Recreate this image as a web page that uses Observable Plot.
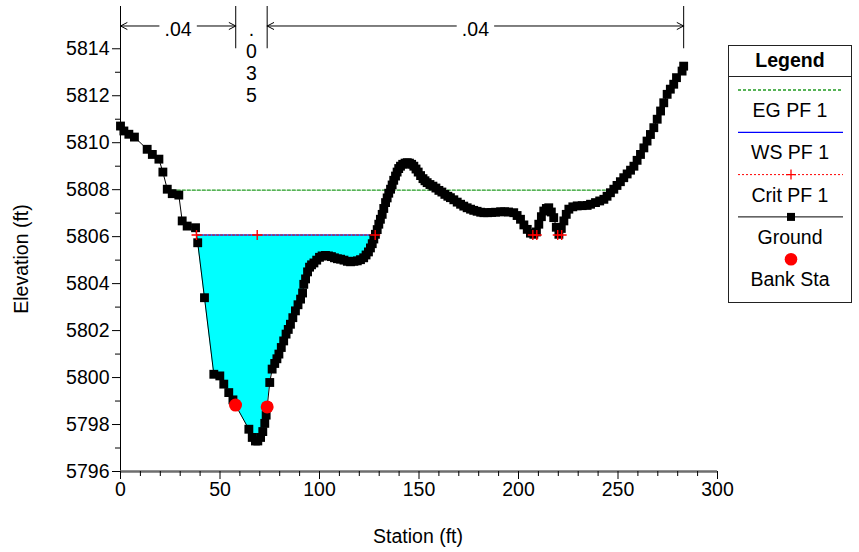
<!DOCTYPE html>
<html><head><meta charset="utf-8">
<script src="https://cdn.jsdelivr.net/npm/d3@7"></script>
<script src="https://cdn.jsdelivr.net/npm/@observablehq/plot@0.6"></script>
<style>
body{margin:0;background:#fff;font-family:Arial,"Liberation Sans",sans-serif;}
#wrap{position:relative;width:859px;height:552px;overflow:hidden;}
#wrap svg{position:absolute;left:0;top:0;}
.lab{position:absolute;font-size:19.5px;color:#000;white-space:nowrap;line-height:1;}
</style></head><body><div id="wrap"></div>
<script>
// ---- data ----
const groundStation = [0,1.7,4.2,7,13.4,16,19.3,21.3,23.5,26,29.3,31,33.5,37.7,38.8,42.2,46.9,49.9,51.9,54.4,56.5,57.8,
64.5,66.2,67.8,69,70.4,71.5,72.5,73.2,73.7,75,76.2,77.5,78.6,79.6,80.8,82,83.2,84.3,85.4,86.6,87.9,89.2,90.5,91.5,92.1,93,94,95,96,97.2,98.6,100,101.3,103,104.5,106,107.5,109,110.6,112.3,114,115.6,117.3,119,120.6,122.2,123.4,124.6,125.6,126.5,127.3,128.1,129,129.8,130.6,131.5,132.3,133.2,134,134.8,135.7,136.5,137.3,138.2,139,139.8,140.7,141.8,143,144.1,145.2,146.3,147.4,148.5,149.6,150.8,152,153,154.1,155.5,157,158.5,160,161.5,163,164.5,165.8,167.5,169.2,170.9,172.5,174.2,175.9,177.5,179.2,181,182.6,184.5,186.5,188.5,191,193,195,197.6,199.3,201,202.7,204.4,206,207.7,209,210.2,211.5,212.7,214,215.2,216.5,217.7,219,220.3,221.5,222.8,224,225.3,227.3,229.5,232,234.5,236.2,238.7,240.8,242.9,244.5,246.2,247.9,249.5,251.2,252.9,254.6,256.3,258,259.6,261.3,263,264.6,266.3,268,269.7,271.4,273,274.7,276.3,278,279.4,282.2,283];
const groundElevation = [5810.71,5810.5,5810.36,5810.24,5809.72,5809.5,5809.3,5808.75,5808.02,5807.83,5807.77,5806.67,5806.45,5806.38,5805.74,5803.4,5800.14,5800.07,5799.72,5799.36,5799.05,5798.83,
5797.8,5797.45,5797.3,5797.3,5797.45,5797.7,5798.05,5798.4,5798.75,5799.79,5800.36,5800.6,5800.8,5801.0,5801.28,5801.56,5801.85,5802.05,5802.27,5802.55,5802.84,5803.1,5803.34,5803.6,5803.97,5804.2,5804.5,5804.7,5804.8,5804.88,5805.0,5805.12,5805.18,5805.2,5805.18,5805.15,5805.1,5805.06,5805.04,5805.0,5804.95,5804.93,5804.95,5804.97,5805.02,5805.1,5805.22,5805.35,5805.52,5805.7,5805.9,5806.1,5806.3,5806.53,5806.74,5806.95,5807.2,5807.45,5807.65,5807.85,5808.02,5808.2,5808.4,5808.58,5808.75,5808.9,5809.0,5809.08,5809.13,5809.15,5809.13,5809.08,5809.0,5808.88,5808.75,5808.6,5808.47,5808.38,5808.3,5808.22,5808.15,5808.07,5807.97,5807.9,5807.8,5807.72,5807.66,5807.57,5807.47,5807.38,5807.3,5807.23,5807.17,5807.12,5807.08,5807.04,5807.02,5807.02,5807.03,5807.04,5807.06,5807.06,5807.05,5807.02,5806.9,5806.74,5806.5,5806.31,5806.15,5806.1,5806.2,5806.53,5806.85,5807.09,5807.2,5807.23,5807.05,5806.81,5806.4,5806.1,5806.35,5806.67,5806.95,5807.17,5807.27,5807.31,5807.32,5807.33,5807.38,5807.45,5807.52,5807.59,5807.72,5807.87,5808.02,5808.18,5808.34,5808.51,5808.67,5808.83,5809.0,5809.25,5809.5,5809.78,5810.07,5810.35,5810.64,5811.0,5811.35,5811.7,5812.06,5812.28,5812.49,5812.77,5813.05,5813.26];
const bankStation = [57.8, 73.7];
const bankElevation = [5798.83, 5798.75];
const wsElevation = 5806.07;          // WS PF 1
const egElevation = 5807.98;          // EG PF 1
const egExtent = [23.5, 249.5];
const wsSegments = [[38.2, 128.0], [207.2, 209.2], [219.7, 221.7]];
const critStations = [38.2, 68.7, 128.0, 207.2, 209.2, 219.7, 221.7];
const nValueStations = [0, 57.9, 73.7, 283];
const nValueLabels = [".04", ".035", ".04"];
const xMajor = [0, 50, 100, 150, 200, 250, 300];
const xMinor = d3.range(0, 301, 10).filter(d => d % 50 !== 0);
const yMajor = [5796, 5798, 5800, 5802, 5804, 5806, 5808, 5810, 5812, 5814];
const yMinor = [5797, 5799, 5801, 5803, 5805, 5807, 5809, 5811, 5813];

// ---- derived tables ----
const ground = groundStation.map((s, i) => ({s, e: groundElevation[i]}));
const banks = bankStation.map((s, i) => ({s, e: bankElevation[i]}));
function crossing(a, b, w) { return a.s + (b.s - a.s) * (w - a.e) / (b.e - a.e); }
let wetL = null, wetR = null;
for (let i = 1; i < ground.length; i++) {
  const a = ground[i-1], b = ground[i];
  if (wetL === null && a.e >= wsElevation && b.e < wsElevation && b.s > 30) wetL = crossing(a, b, wsElevation);
  if (wetL !== null && wetR === null && a.e < wsElevation && b.e >= wsElevation && a.s > 100) wetR = crossing(a, b, wsElevation);
}
const wet = [{s: wetL, e: wsElevation, w: wsElevation}]
  .concat(ground.filter(d => d.s > wetL && d.s < wetR).map(d => ({...d, w: wsElevation})))
  .concat([{s: wetR, e: wsElevation, w: wsElevation}]);
const wsLines = wsSegments.flatMap((seg, k) => seg.map(s => ({s, e: wsElevation, k})));
const egLine = egExtent.map(s => ({s, e: egElevation}));
const critPts = critStations.map(s => ({s, e: wsElevation}));
const yTop = 5815.8, yArrow = 5814.97;
const regions = nValueLabels.map((label, i) => ({a: nValueStations[i], b: nValueStations[i+1], c: (nValueStations[i] + nValueStations[i+1]) / 2, label}));
const gap = 9.6;
const arrows = regions.filter(r => r.b - r.a > 30).flatMap(r => [
  {x1: r.c - gap, x2: r.a}, {x1: r.c + gap, x2: r.b}
]);
const hLabels = regions.filter(r => r.b - r.a > 30);
const vLabels = regions.filter(r => r.b - r.a <= 30).map(r => ({...r, text: r.label.split("").join("\n")}));

const FS = 19.5;
const font = 'Arial, "Liberation Sans", sans-serif';
const chart = Plot.plot({
  width: 859, height: 552,
  marginLeft: 120, marginRight: 142, marginTop: 6, marginBottom: 81,
  x: {domain: [0, 300]},
  y: {domain: [5796, yTop]},
  style: {fontFamily: font, fontSize: FS + "px", background: "transparent", color: "black", overflow: "visible"},
  marks: [
    Plot.areaY(wet, {x: "s", y1: "e", y2: "w", fill: "#00ffff"}),
    Plot.line(egLine, {x: "s", y: "e", stroke: "#1f9a1f", strokeWidth: 1.3, strokeDasharray: "3,2"}),
    Plot.line(wsLines, {x: "s", y: "e", z: "k", stroke: "#0000ff", strokeWidth: 1.2}),
    Plot.line(wsLines, {x: "s", y: "e", z: "k", stroke: "#ff0000", strokeWidth: 1, strokeDasharray: "2,2"}),
    Plot.line(ground, {x: "s", y: "e", stroke: "black", strokeWidth: 1}),
    Plot.dot(ground, {x: "s", y: "e", symbol: "square", r: 5, fill: "black", stroke: "none"}),
    Plot.dot(banks, {x: "s", y: "e", r: 6.5, fill: "#ff0000", stroke: "none"}),
    Plot.dot(critPts, {x: "s", y: "e", symbol: "plus", r: 3.3, stroke: "#ff0000", strokeWidth: 1.4}),
    // n-value annotations
    Plot.ruleX(nValueStations, {y1: 5814, y2: yTop, stroke: "black", strokeWidth: 1}),
    Plot.arrow(arrows, {x1: "x1", x2: "x2", y1: yArrow, y2: yArrow, stroke: "black", strokeWidth: 1, headLength: 11, headAngle: 55}),
    Plot.text(hLabels, {x: "c", y: 5814.8, text: "label", fontSize: FS, fill: "black"}),
    Plot.text(vLabels, {x: "c", y: 5813.44, text: "text", fontSize: FS, fill: "black", lineHeight: 1.12}),
    // axes
    Plot.ruleX([0], {y1: 5796, y2: yTop, stroke: "black"}),
    Plot.ruleY([5796], {stroke: "#6e6e6e", strokeWidth: 2.5}),
    Plot.axisY({ticks: yMajor, tickSize: 8, tickPadding: 3, tickFormat: d => String(d), label: null}),
    Plot.axisY({ticks: yMinor, tickSize: 5, tickFormat: () => "", label: null}),
    Plot.axisX({ticks: xMajor, tickSize: 8, tickPadding: 3, tickFormat: d => String(d), label: null}),
    Plot.axisX({ticks: xMinor, tickSize: 5, tickFormat: () => "", label: null})
  ]
});
const wrap = document.getElementById("wrap");
wrap.appendChild(chart);

function addLabel(text, css) {
  const d = document.createElement("div");
  d.className = "lab"; d.textContent = text; Object.assign(d.style, css); wrap.appendChild(d);
}
addLabel("Elevation (ft)", {left: "22px", top: "259px", transform: "translate(-50%,-50%) rotate(-90deg)"});
addLabel("Station (ft)", {left: "418px", top: "537px", transform: "translate(-50%,-50%)"});

// ---- legend ----
const legendItems = [
  {name: "EG PF 1", kind: "eg"},
  {name: "WS PF 1", kind: "ws"},
  {name: "Crit PF 1", kind: "crit"},
  {name: "Ground", kind: "ground"},
  {name: "Bank Sta", kind: "bank"}
];
const L = d3.create("svg").attr("width", 124).attr("height", 258)
  .style("position", "absolute").style("left", "728px").style("top", "45px")
  .style("font-family", font);
L.append("rect").attr("x", 0.5).attr("y", 0.5).attr("width", 123).attr("height", 257).attr("fill", "white").attr("stroke", "#222");
L.append("text").attr("x", 62).attr("y", 15).attr("dy", "0.35em").attr("text-anchor", "middle").attr("font-weight", "bold").attr("font-size", FS).text("Legend");
L.append("line").attr("x1", 0).attr("x2", 124).attr("y1", 31.5).attr("y2", 31.5).attr("stroke", "#222");
legendItems.forEach((it, i) => {
  const sy = 45 + i * 42.3, ty = 65.5 + i * 42.1;
  const g = L.append("g");
  if (it.kind === "eg") g.append("line").attr("x1", 10).attr("x2", 115).attr("y1", sy).attr("y2", sy).attr("stroke", "#1f9a1f").attr("stroke-dasharray", "3,2").attr("stroke-width", 1.3);
  if (it.kind === "ws") g.append("line").attr("x1", 10).attr("x2", 115).attr("y1", sy).attr("y2", sy).attr("stroke", "#0000ff").attr("stroke-width", 1.2);
  if (it.kind === "crit") {
    g.append("line").attr("x1", 10).attr("x2", 115).attr("y1", sy).attr("y2", sy).attr("stroke", "#ff0000").attr("stroke-dasharray", "2,2");
    g.append("path").attr("d", `M58,${sy}h10M63,${sy-5}v10`).attr("stroke", "#ff0000").attr("stroke-width", 1.3);
  }
  if (it.kind === "ground") {
    g.append("line").attr("x1", 10).attr("x2", 115).attr("y1", sy).attr("y2", sy).attr("stroke", "black");
    g.append("rect").attr("x", 59).attr("y", sy - 4).attr("width", 8).attr("height", 8).attr("fill", "black");
  }
  if (it.kind === "bank") g.append("circle").attr("cx", 63).attr("cy", sy).attr("r", 6.3).attr("fill", "#ff0000");
  L.append("text").attr("x", 62).attr("y", ty).attr("dy", "0.35em").attr("text-anchor", "middle").attr("font-size", FS).text(it.name);
});
wrap.appendChild(L.node());
</script></body></html>
